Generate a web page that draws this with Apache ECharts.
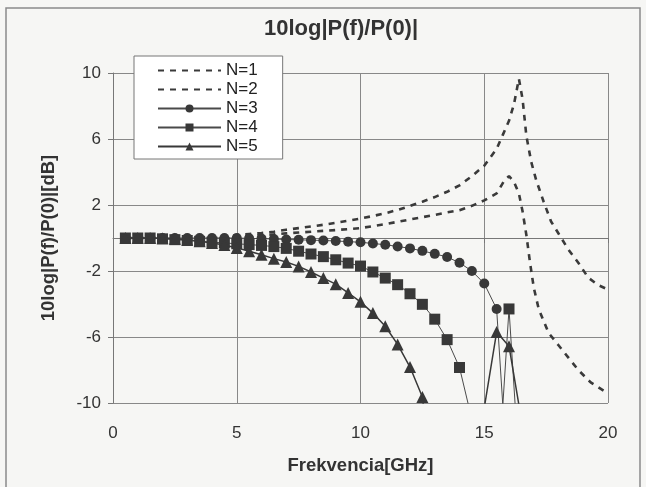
<!DOCTYPE html>
<html>
<head>
<meta charset="utf-8">
<script src="https://cdn.jsdelivr.net/npm/echarts@6/dist/echarts.min.js"></script>
<style>
html,body{margin:0;padding:0;background:#f6f6f4;}
#chart{width:646px;height:487px;}
</style>
</head>
<body>
<div id="chart"></div>
<script>
// Shared frequency grid for marker series N=3..5 (GHz)
var xMarkers = [0.5,1,1.5,2,2.5,3,3.5,4,4.5,5,5.5,6,6.5,7,7.5,8,8.5,9,9.5,10,10.5,11,11.5,12,12.5,13,13.5,14,14.5,15,15.5,16,16.5];
var n3 = [0,0,0,0,0,0,0,0,0,0,-0.02,-0.04,-0.06,-0.09,-0.11,-0.13,-0.15,-0.18,-0.22,-0.26,-0.33,-0.41,-0.51,-0.63,-0.78,-0.96,-1.15,-1.5,-2.0,-2.76,-4.3,-16,-20];
var n4 = [0,0,0,-0.05,-0.1,-0.15,-0.2,-0.25,-0.3,-0.35,-0.4,-0.45,-0.52,-0.63,-0.8,-0.97,-1.13,-1.32,-1.52,-1.7,-2.06,-2.43,-2.83,-3.38,-4.02,-4.92,-6.16,-7.85,-11,-20,-16,-4.3,-16];
var n5 = [0,0,0,-0.02,-0.05,-0.1,-0.2,-0.3,-0.42,-0.6,-0.8,-1.02,-1.25,-1.45,-1.72,-2.06,-2.43,-2.8,-3.33,-3.87,-4.55,-5.35,-6.45,-7.82,-9.64,-16,-20,-20,-20,-10.3,-5.7,-6.56,-11];

// Dashed series N=1 and N=2
var n1x = [0.5,1,2,3,4,5,5.5,6,6.5,7,7.5,8,8.5,9,9.5,10,10.5,11,11.5,12,12.5,13,13.5,14,14.5,15,15.5,15.75,16,16.2,16.4,16.55,16.7,16.9,17.1,17.4,17.7,18,18.4,18.8,19.2,19.6,20];
var n1y = [0,0,0.01,0.04,0.1,0.18,0.24,0.3,0.38,0.5,0.6,0.7,0.8,0.92,1.05,1.18,1.33,1.5,1.7,1.94,2.2,2.48,2.8,3.19,3.75,4.38,5.4,6.25,7.1,8.1,9.65,8.4,6.2,4.6,3.5,2.2,1.0,0.27,-0.7,-1.5,-2.4,-2.85,-3.13];
var n2x = [0.5,1,2,3,4,5,5.5,6,6.5,7,7.5,8,8.5,9,9.5,10,10.5,11,11.5,12,12.5,13,13.5,14,14.5,15,15.5,15.8,16,16.2,16.4,16.55,16.7,16.85,17,17.2,17.6,18,18.4,18.8,19.3,20];
var n2y = [0,0,0,0.02,0.05,0.1,0.13,0.17,0.22,0.28,0.33,0.38,0.43,0.48,0.54,0.6,0.72,0.84,0.98,1.12,1.26,1.4,1.55,1.68,1.95,2.28,2.7,3.45,3.75,3.4,2.7,1.6,0.2,-1.5,-3.0,-4.3,-5.75,-6.5,-7.25,-8.0,-8.75,-9.43];

var seriesNames = ['N=1','N=2','N=3','N=4','N=5'];
var titleText = '10log|P(f)/P(0)|';
var xName = 'Frekvencia[GHz]';
var yName = '10log|P(f)/P(0)|[dB]';

function pairs(xs, ys){ return xs.map(function(x,i){ return [x, ys[i]]; }); }

var FONT = '"Liberation Sans", Arial, sans-serif';
var chart = echarts.init(document.getElementById('chart'), null, {renderer:'canvas'});
var dashed = {color:'#3a3a3a', width:2.6, type:[6,6]};
var thin = {color:'#4a4a4a', width:1};
var option = {
  backgroundColor: '#f6f6f4',
  animation: false,
  graphic: [{
    type: 'rect', shape: {x: 6, y: 8, width: 634, height: 500},
    style: {fill: 'transparent', stroke: '#8a8a8a', lineWidth: 1.5}, silent: true, z: 0
  }],
  title: {
    text: titleText, left: 264, top: 18, padding: 0,
    textStyle: {fontFamily: FONT, fontSize: 22, fontWeight: 'bold', color: '#333'}
  },
  legend: {
    orient: 'vertical', left: 134, top: 56,
    backgroundColor: '#ffffff', borderColor: '#777', borderWidth: 1,
    padding: [6, 25, 4, 23], itemWidth: 63, itemHeight: 10, itemGap: 2,
    textStyle: {fontFamily: FONT, fontSize: 17, lineHeight: 17, color: '#222'},
    data: [
      {name: 'N=1', itemStyle: {opacity: 0}},
      {name: 'N=2', itemStyle: {opacity: 0}},
      'N=3', 'N=4', 'N=5'
    ]
  },
  grid: {left: 113, right: 38, top: 73, bottom: 84},
  xAxis: {
    type: 'value', min: 0, max: 20, interval: 5,
    name: xName, nameLocation: 'middle', nameGap: 53,
    nameTextStyle: {fontFamily: FONT, fontSize: 18.5, fontWeight: 'bold', color: '#333'},
    axisLine: {lineStyle: {color: '#777', width: 1}},
    axisTick: {show: true, length: 5, lineStyle: {color: '#777'}},
    axisLabel: {margin: 22, fontFamily: FONT, fontSize: 17, color: '#333'},
    splitLine: {show: true, lineStyle: {color: '#888', width: 1}}
  },
  yAxis: {
    type: 'value', min: -10, max: 10, interval: 4,
    name: yName, nameLocation: 'middle', nameGap: 55, nameRotate: 90,
    nameTextStyle: {fontFamily: FONT, fontSize: 18.5, fontWeight: 'bold', color: '#333'},
    axisLine: {show: true, lineStyle: {color: '#777', width: 1}},
    axisTick: {show: true, length: 5, lineStyle: {color: '#777'}},
    axisLabel: {margin: 12, fontFamily: FONT, fontSize: 17, color: '#333'},
    splitLine: {show: true, lineStyle: {color: '#888', width: 1}}
  },
  series: [
    {name: 'N=1', type: 'line', data: pairs(n1x, n1y), symbol: 'none', clip: true,
     lineStyle: dashed, itemStyle: {color: '#3a3a3a'}},
    {name: 'N=2', type: 'line', data: pairs(n2x, n2y), symbol: 'none', clip: true,
     lineStyle: dashed, itemStyle: {color: '#3a3a3a'}},
    {name: 'N=3', type: 'line', data: pairs(xMarkers, n3), symbol: 'circle', symbolSize: 10, clip: true,
     lineStyle: thin, itemStyle: {color: '#383838'}},
    {name: 'N=4', type: 'line', data: pairs(xMarkers, n4), symbol: 'rect', symbolSize: 11, clip: true,
     lineStyle: thin, itemStyle: {color: '#383838'}},
    {name: 'N=5', type: 'line', data: pairs(xMarkers, n5), symbol: 'triangle', symbolSize: 12, clip: true,
     lineStyle: {color: '#383838', width: 1.5}, itemStyle: {color: '#383838'}}
  ]
};
chart.setOption(option);
</script>
</body>
</html>
